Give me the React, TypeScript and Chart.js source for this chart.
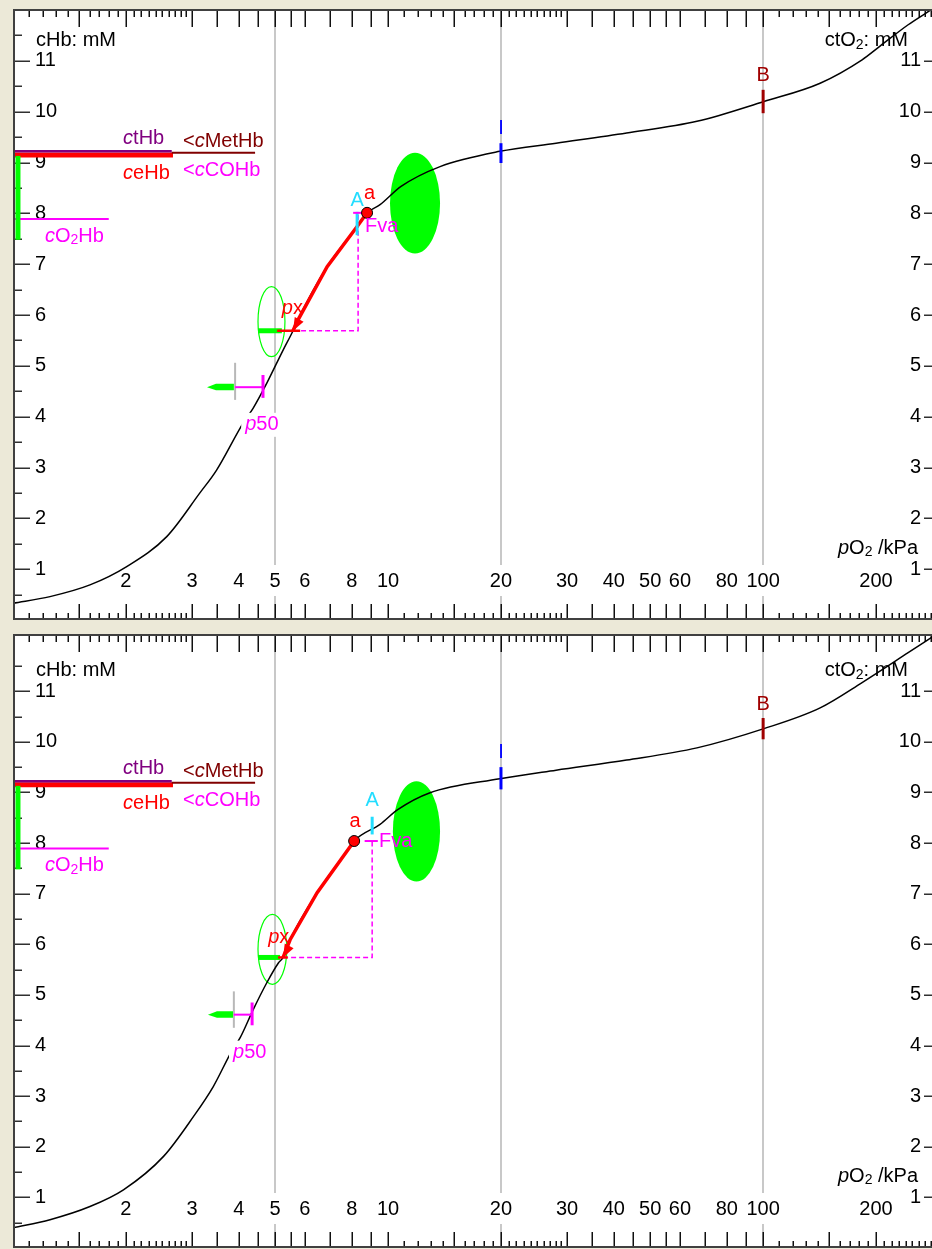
import React, { useEffect, useRef } from "react";
import { Chart, registerables } from "chart.js";

Chart.register(...registerables);

const FF = '"Liberation Sans", Arial, Helvetica, sans-serif';
const FS = 20;

const BEIGE = "#ECE9D8";
const FRAME = "#404040";
const GRID = "#c8c8c8";
const LIME = "#00ff00";
const MAGENTA = "#ff00ff";
const RED = "#ff0000";
const PURPLE = "#800080";
const MAROON = "#800000";
const CYAN = "#22ddff";
const BLUE = "#0000ff";
const DARKRED = "#a00000";

// ---------------- axes ----------------
const PO2_MIN = 1;
const PO2_MAX = 282;
const PO2_LABELS = [2, 3, 4, 5, 6, 8, 10, 20, 30, 40, 50, 60, 80, 100, 200];
const PO2_GRID = [5, 20, 100];
const PO2_LONG_TICKS = [1.5, 2, 3, 3.5, 4, 4.5, 5, 5.5, 6, 7, 8, 9, 10, 15, 20, 30, 35, 40, 45, 50, 55, 60, 70, 80, 90, 100, 150, 200];
const PO2_SHORT_TICKS = [1.1, 1.2, 1.3, 1.4, 1.6, 1.7, 1.8, 1.9, 2.1, 2.2, 2.3, 2.4, 2.5, 2.6, 2.7, 2.8, 2.9, 11, 12, 13, 14, 16, 17, 18, 19, 21, 22, 23, 24, 25, 26, 27, 28, 29, 110, 120, 130, 140, 160, 170, 180, 190, 210, 220, 230, 240, 250, 260, 270, 280];
const CT_LABELS = [1, 2, 3, 4, 5, 6, 7, 8, 9, 10, 11];
const CT_HALF_TICKS = [0.5, 1.5, 2.5, 3.5, 4.5, 5.5, 6.5, 7.5, 8.5, 9.5, 10.5, 11.5];

// ---------------- haemoglobin bars (left side, both panels) ----------------
const HB_CTHB = 9.22;
const HB_CEHB = 9.15;
const HB_METHB = 9.19;
const HB_O2HB = 7.89;
const HB_CTHB_END_PO2 = 2.65;
const HB_CEHB_END_PO2 = 2.67;
const HB_METHB_END_PO2 = 4.42;
const HB_O2HB_END_PO2 = 1.8;
const SO2_BAR_PO2 = 1.031;
const SO2_BAR_CTO2 = [7.48, 9.13];

// ---------------- top panel ----------------
const TOP_CURVE_PO2 = [1, 1.255, 1.604, 2.01, 2.57, 3.15, 3.49, 4.11, 4.37, 4.75, 5.25, 5.58, 5.72, 6.88, 8.27, 8.79, 9.52, 10.83, 13.76, 19.86, 28.05, 43.25, 66.6, 100.5, 141.9, 183.6, 205, 243.6, 271.7, 300];
const TOP_CURVE_CTO2 = [0.33, 0.46, 0.69, 1.05, 1.64, 2.5, 2.95, 3.88, 4.17, 4.66, 5.31, 5.69, 5.87, 6.95, 7.74, 8.01, 8.17, 8.53, 8.92, 9.22, 9.38, 9.58, 9.81, 10.2, 10.56, 11.02, 11.29, 11.71, 11.94, 12.15];
const TOP_RED_PO2 = [5.58, 5.72, 6.88, 8.27, 8.79];
const TOP_RED_CTO2 = [5.69, 5.87, 6.95, 7.74, 8.01];
const TOP_A_POINT = [8.79, 8.01];
const TOP_PX_POINT = [5.58, 5.69];
const TOP_FVA_PO2 = 8.32;
const TOP_FVA_TBAR = [8.07, 8.58];
const TOP_A_MARK = [8.27, 7.57, 8.03];
const TOP_I_MARK = [8.99, 9.38];
const TOP_B_MARK = [9.97, 10.43];
const TOP_P50 = [4.64, 4.58];
const TOP_P50_GRAY = [3.91, 4.33, 5.06];
const TOP_P50_BAR = [4.37, 4.82];
const TOP_P50_ARROW = [3.29, 3.88];
const TOP_PX_RED_BAR = [5.06, 5.83];
const TOP_PX_GREEN_BAR = [4.5, 5.21];
const TOP_BIG_ELLIPSE = [10.12, 13.76, 8.2, 0.99];
const TOP_SMALL_ELLIPSE = [4.5, 5.31, 5.87, 0.69];
const TOP_LABEL_POS = {
  a: [8.93, 8.4], A: [8.27, 8.26], Fva: [8.68, 7.75], px: [5.21, 6.12], p50: [4.16, 3.84], I: [20, 9.66], B: [100, 10.72],
};

// ---------------- bottom panel ----------------
const BOT_CURVE_PO2 = [1, 1.255, 1.604, 1.97, 2.52, 3.03, 3.42, 3.83, 4.03, 4.37, 4.75, 5.1, 5.25, 5.48, 6.47, 8.07, 8.12, 9.52, 10.61, 12.89, 19.86, 28.05, 43.25, 66.6, 100.5, 141.9, 183.6, 243.6, 271.7, 300];
const BOT_CURVE_CTO2 = [0.4, 0.56, 0.82, 1.15, 1.81, 2.6, 3.19, 3.89, 4.15, 4.71, 5.24, 5.63, 5.74, 6.09, 7.02, 8.01, 8.04, 8.37, 8.66, 8.99, 9.27, 9.44, 9.64, 9.88, 10.26, 10.67, 11.17, 11.76, 11.99, 12.2];
const BOT_RED_PO2 = [5.25, 5.48, 6.47, 8.07, 8.12];
const BOT_RED_CTO2 = [5.74, 6.09, 7.02, 8.01, 8.04];
const BOT_A_POINT = [8.12, 8.04];
const BOT_PX_POINT = [5.25, 5.74];
const BOT_FVA_PO2 = 9.07;
const BOT_FVA_TBAR = [8.66, 9.39];
const BOT_A_MARK = [9.07, 8.17, 8.52];
const BOT_I_MARK = [9.06, 9.5];
const BOT_B_MARK = [10.05, 10.47];
const BOT_P50 = [4.34, 4.61];
const BOT_P50_GRAY = [3.88, 4.35, 5.07];
const BOT_P50_BAR = [4.4, 4.85];
const BOT_P50_ARROW = [3.31, 3.86];
const BOT_PX_RED_BAR = [5.09, 5.4];
const BOT_PX_GREEN_BAR = [4.5, 5.15];
const BOT_BIG_ELLIPSE = [10.3, 13.76, 8.23, 0.99];
const BOT_SMALL_ELLIPSE = [4.5, 5.37, 5.9, 0.69];
const BOT_LABEL_POS = {
  a: [8.17, 8.42], A: [9.07, 8.84], Fva: [9.46, 8.03], px: [4.79, 6.13], p50: [3.86, 3.86], I: [20, 9.79], B: [100, 10.74],
};

type Seg = [string, string];

function drawRich(ctx: CanvasRenderingContext2D, segs: Seg[], x: number, y: number, align: string, color: string, bg?: boolean) {
  const fontFor = (s: string) =>
    s === "i" ? `italic ${FS}px ${FF}` : s === "s" ? `${Math.round(FS * 0.72)}px ${FF}` : `${FS}px ${FF}`;
  let total = 0;
  const widths = segs.map(([t, s]) => {
    ctx.font = fontFor(s);
    const w = ctx.measureText(t).width;
    total += w;
    return w;
  });
  let x0 = align === "center" ? x - total / 2 : align === "right" ? x - total : x;
  if (bg) {
    ctx.fillStyle = "#ffffff";
    ctx.fillRect(x0 - 4, y - 12, total + 8, 24);
  }
  ctx.textAlign = "left";
  ctx.textBaseline = "middle";
  ctx.fillStyle = color;
  segs.forEach(([t, s], i) => {
    ctx.font = fontFor(s);
    ctx.fillText(t, x0, s === "s" ? y + FS * 0.22 : y);
    x0 += widths[i];
  });
}

const pts = (xs: number[], ys: number[]) => xs.map((x, i) => ({ x, y: ys[i] }));

function lineDs(data: { x: number; y: number }[], color: string, width: number, extra: any = {}) {
  return {
    data,
    borderColor: color,
    backgroundColor: color,
    borderWidth: width,
    pointRadius: 0,
    tension: 0,
    fill: false,
    ...extra,
  };
}

function buildPanel(p: any) {
  const a = p.aPoint;
  const px = p.pxPoint;
  const layers = [
    lineDs(pts(p.curveP, p.curveV), "#000000", 1.5, { cubicInterpolationMode: "monotone" }),
    lineDs([{ x: PO2_MIN, y: HB_CEHB }, { x: HB_CEHB_END_PO2, y: HB_CEHB }], RED, 5),
    lineDs([{ x: PO2_MIN, y: HB_CTHB }, { x: HB_CTHB_END_PO2, y: HB_CTHB }], PURPLE, 2.5),
    lineDs([{ x: HB_CTHB_END_PO2, y: HB_METHB }, { x: HB_METHB_END_PO2, y: HB_METHB }], MAROON, 2),
    lineDs([{ x: PO2_MIN, y: HB_O2HB }, { x: HB_O2HB_END_PO2, y: HB_O2HB }], MAGENTA, 2),
    lineDs([{ x: SO2_BAR_PO2, y: SO2_BAR_CTO2[0] }, { x: SO2_BAR_PO2, y: SO2_BAR_CTO2[1] }], LIME, 5),
    lineDs([{ x: p.pxGreen[0], y: px[1] }, { x: p.pxGreen[1], y: px[1] }], LIME, 5),
    lineDs([{ x: p.p50Gray[0], y: p.p50Gray[1] }, { x: p.p50Gray[0], y: p.p50Gray[2] }], "#b8b8b8", 2),
    lineDs([{ x: p.p50Gray[0], y: p.p50[1] }, { x: p.p50[0], y: p.p50[1] }], MAGENTA, 2),
    lineDs([{ x: p.p50[0], y: p.p50Bar[0] }, { x: p.p50[0], y: p.p50Bar[1] }], MAGENTA, 3),
    lineDs([{ x: px[0], y: px[1] }, { x: p.fvaP, y: px[1] }, { x: p.fvaP, y: a[1] }], MAGENTA, 1.5, { borderDash: [5, 3] }),
    lineDs(pts(p.redP, p.redV), RED, 3.5),
    lineDs([{ x: p.pxRed[0], y: px[1] }, { x: p.pxRed[1], y: px[1] }], RED, 2.5),
    lineDs([{ x: p.aMark[0], y: p.aMark[1] }, { x: p.aMark[0], y: p.aMark[2] }], CYAN, 3),
    lineDs([{ x: p.fvaT[0], y: a[1] }, { x: p.fvaT[1], y: a[1] }], MAGENTA, 2),
    lineDs([{ x: 20, y: p.iMark[0] }, { x: 20, y: p.iMark[1] }], BLUE, 3),
    lineDs([{ x: 100, y: p.bMark[0] }, { x: 100, y: p.bMark[1] }], DARKRED, 3),
    {
      data: [{ x: a[0], y: a[1] }],
      showLine: false,
      pointRadius: 5.5,
      pointBackgroundColor: RED,
      pointBorderColor: "#000000",
      pointBorderWidth: 1,
    },
  ];
  // first dataset is drawn on top in Chart.js
  return layers.reverse();
}

const HB_TEXTS: { segs: Seg[]; p: number; v: number; color: string }[] = [
  { segs: [["c", "i"], ["tHb", ""]], p: 1.966, v: 9.48, color: PURPLE },
  { segs: [["<", ""], ["c", "i"], ["MetHb", ""]], p: 2.84, v: 9.42, color: MAROON },
  { segs: [["c", "i"], ["eHb", ""]], p: 1.966, v: 8.79, color: RED },
  { segs: [["<", ""], ["c", "i"], ["COHb", ""]], p: 2.84, v: 8.85, color: MAGENTA },
  { segs: [["c", "i"], ["O", ""], ["2", "s"], ["Hb", ""]], p: 1.217, v: 7.55, color: MAGENTA },
];

function makePlugin(p: any) {
  return {
    id: "odcDecor",
    beforeDraw(chart: any) {
      const { ctx, chartArea: ca } = chart;
      ctx.save();
      ctx.fillStyle = BEIGE;
      ctx.fillRect(0, 0, chart.width, chart.height);
      ctx.fillStyle = "#ffffff";
      ctx.fillRect(ca.left, ca.top, ca.right - ca.left, ca.bottom - ca.top);
      ctx.restore();
    },
    beforeDatasetsDraw(chart: any) {
      const { ctx, chartArea: ca } = chart;
      const X = (v: number) => chart.scales.x.getPixelForValue(v);
      const Y = (v: number) => chart.scales.y.getPixelForValue(v);
      ctx.save();
      // grid lines
      ctx.strokeStyle = GRID;
      ctx.lineWidth = 2;
      PO2_GRID.forEach((g) => {
        const x = Math.round(X(g));
        ctx.beginPath();
        ctx.moveTo(x, ca.top);
        ctx.lineTo(x, ca.bottom);
        ctx.stroke();
      });
      // ellipses
      const ell = (e: number[], filled: boolean) => {
        const x0 = X(e[0]);
        const x1 = X(e[1]);
        const cy = Y(e[2]);
        const ry = Y(e[2] - e[3]) - cy;
        ctx.beginPath();
        ctx.ellipse((x0 + x1) / 2, cy, (x1 - x0) / 2, ry, 0, 0, Math.PI * 2);
        if (filled) {
          ctx.fillStyle = LIME;
          ctx.fill();
        } else {
          ctx.strokeStyle = LIME;
          ctx.lineWidth = 1.2;
          ctx.stroke();
        }
      };
      ell(p.bigEllipse, true);
      ell(p.smallEllipse, false);
      // bottom tick labels
      ctx.font = `${FS}px ${FF}`;
      PO2_LABELS.forEach((v) => {
        const x = X(v);
        const y = ca.bottom - 39;
        const w = ctx.measureText(String(v)).width;
        ctx.fillStyle = "#ffffff";
        ctx.fillRect(x - w / 2 - 2, y - 16, w + 4, 31);
        ctx.fillStyle = "#000000";
        ctx.textAlign = "center";
        ctx.textBaseline = "middle";
        ctx.fillText(String(v), x, y);
      });
      // x ticks top/bottom
      ctx.strokeStyle = "#101010";
      ctx.lineWidth = 1.5;
      const tick = (v: number, lenB: number, lenT: number) => {
        const x = Math.round(X(v)) + 0.25;
        if (x < ca.left + 2 || x > ca.right) return;
        ctx.beginPath();
        ctx.moveTo(x, ca.bottom);
        ctx.lineTo(x, ca.bottom - lenB);
        ctx.moveTo(x, ca.top);
        ctx.lineTo(x, ca.top + lenT);
        ctx.stroke();
      };
      PO2_LONG_TICKS.forEach((v) => tick(v, 16, 18));
      PO2_SHORT_TICKS.forEach((v) => tick(v, 7, 8));
      // y ticks and labels
      ctx.strokeStyle = "#303030";
      ctx.lineWidth = 1.5;
      CT_LABELS.forEach((v) => {
        const y = Math.round(Y(v)) + 0.25;
        ctx.beginPath();
        ctx.moveTo(ca.left, y);
        ctx.lineTo(ca.left + 17, y);
        ctx.moveTo(ca.right - 8, y);
        ctx.lineTo(ca.right, y);
        ctx.stroke();
      });
      CT_HALF_TICKS.forEach((v) => {
        const y = Math.round(Y(v)) + 0.25;
        if (y < ca.top + 2) return;
        ctx.beginPath();
        ctx.moveTo(ca.left, y);
        ctx.lineTo(ca.left + 9, y);
        ctx.stroke();
      });
      ctx.font = `${FS}px ${FF}`;
      ctx.fillStyle = "#000000";
      ctx.textBaseline = "middle";
      CT_LABELS.forEach((v) => {
        const y = Y(v);
        ctx.textAlign = "left";
        ctx.fillText(String(v), ca.left + 22, y);
        ctx.textAlign = "right";
        ctx.fillText(String(v), ca.right - 11, y);
      });
      // axis titles
      drawRich(ctx, [["cHb: mM", ""]], ca.left + 23, Y(11.4), "left", "#000000");
      drawRich(ctx, [["ctO", ""], ["2", "s"], [": mM", ""]], ca.right - 24, Y(11.4), "right", "#000000");
      drawRich(ctx, [["p", "i"], ["O", ""], ["2", "s"], [" /kPa", ""]], ca.right - 14, ca.bottom - 72, "right", "#000000");
      // Hb labels
      HB_TEXTS.forEach((t) => drawRich(ctx, t.segs, X(t.p), Y(t.v), "left", t.color));
      ctx.restore();
    },
    afterDatasetsDraw(chart: any) {
      const { ctx, chartArea: ca } = chart;
      const X = (v: number) => chart.scales.x.getPixelForValue(v);
      const Y = (v: number) => chart.scales.y.getPixelForValue(v);
      ctx.save();
      // green arrow at p50 level
      {
        const y = Y(p.p50[1]);
        const xt = X(p.p50Arrow[0]);
        const xe = X(p.p50Arrow[1]);
        ctx.fillStyle = LIME;
        ctx.beginPath();
        ctx.moveTo(xt, y);
        ctx.lineTo(xt + 9, y - 3.5);
        ctx.lineTo(xe, y - 3.5);
        ctx.lineTo(xe, y + 3);
        ctx.lineTo(xt + 9, y + 3);
        ctx.closePath();
        ctx.fill();
      }
      // red arrowhead at px
      {
        const tx = X(p.redP[0]);
        const ty = Y(p.redV[0]);
        const bx = X(p.redP[2]);
        const by = Y(p.redV[2]);
        const ang = Math.atan2(ty - by, tx - bx);
        const L = 13;
        const W = 5;
        const cx = tx - L * Math.cos(ang);
        const cy = ty - L * Math.sin(ang);
        ctx.fillStyle = RED;
        ctx.beginPath();
        ctx.moveTo(tx, ty);
        ctx.lineTo(cx + W * Math.sin(ang), cy - W * Math.cos(ang));
        ctx.lineTo(cx - W * Math.sin(ang), cy + W * Math.cos(ang));
        ctx.closePath();
        ctx.fill();
      }
      // marker labels
      const L = p.labels;
      drawRich(ctx, [["a", ""]], X(L.a[0]), Y(L.a[1]), "center", RED);
      drawRich(ctx, [["A", ""]], X(L.A[0]), Y(L.A[1]), "center", CYAN);
      drawRich(ctx, [["Fva", ""]], X(L.Fva[0]), Y(L.Fva[1]), "left", MAGENTA);
      drawRich(ctx, [["p", "i"], ["x", ""]], X(L.px[0]), Y(L.px[1]), "left", RED);
      drawRich(ctx, [["p", "i"], ["50", ""]], X(L.p50[0]), Y(L.p50[1]), "left", MAGENTA, true);
      drawRich(ctx, [["I", ""]], X(L.I[0]), Y(L.I[1]), "center", BLUE);
      drawRich(ctx, [["B", ""]], X(L.B[0]), Y(L.B[1]), "center", DARKRED);
      // frame
      ctx.strokeStyle = FRAME;
      ctx.lineWidth = 2;
      ctx.beginPath();
      ctx.moveTo(ca.left + 1, ca.bottom - 1);
      ctx.lineTo(ca.left + 1, ca.top + 1);
      ctx.lineTo(ca.right, ca.top + 1);
      ctx.moveTo(ca.left, ca.bottom - 1);
      ctx.lineTo(ca.right, ca.bottom - 1);
      ctx.stroke();
      ctx.restore();
    },
  };
}

const PANELS = [
  {
    top: 0,
    height: 622,
    padding: { left: 13, top: 9, right: 0, bottom: 2 },
    yMax: 12.02,
    curveP: TOP_CURVE_PO2,
    curveV: TOP_CURVE_CTO2,
    redP: TOP_RED_PO2,
    redV: TOP_RED_CTO2,
    aPoint: TOP_A_POINT,
    pxPoint: TOP_PX_POINT,
    fvaP: TOP_FVA_PO2,
    fvaT: TOP_FVA_TBAR,
    aMark: TOP_A_MARK,
    iMark: TOP_I_MARK,
    bMark: TOP_B_MARK,
    p50: TOP_P50,
    p50Gray: TOP_P50_GRAY,
    p50Bar: TOP_P50_BAR,
    p50Arrow: TOP_P50_ARROW,
    pxRed: TOP_PX_RED_BAR,
    pxGreen: TOP_PX_GREEN_BAR,
    bigEllipse: TOP_BIG_ELLIPSE,
    smallEllipse: TOP_SMALL_ELLIPSE,
    labels: TOP_LABEL_POS,
  },
  {
    top: 622,
    height: 627,
    padding: { left: 13, top: 12, right: 0, bottom: 1 },
    yMax: 12.13,
    curveP: BOT_CURVE_PO2,
    curveV: BOT_CURVE_CTO2,
    redP: BOT_RED_PO2,
    redV: BOT_RED_CTO2,
    aPoint: BOT_A_POINT,
    pxPoint: BOT_PX_POINT,
    fvaP: BOT_FVA_PO2,
    fvaT: BOT_FVA_TBAR,
    aMark: BOT_A_MARK,
    iMark: BOT_I_MARK,
    bMark: BOT_B_MARK,
    p50: BOT_P50,
    p50Gray: BOT_P50_GRAY,
    p50Bar: BOT_P50_BAR,
    p50Arrow: BOT_P50_ARROW,
    pxRed: BOT_PX_RED_BAR,
    pxGreen: BOT_PX_GREEN_BAR,
    bigEllipse: BOT_BIG_ELLIPSE,
    smallEllipse: BOT_SMALL_ELLIPSE,
    labels: BOT_LABEL_POS,
  },
];

function Panel({ cfg }: { cfg: any }) {
  const ref = useRef<HTMLCanvasElement | null>(null);
  useEffect(() => {
    if (!ref.current) return;
    const chart = new Chart(ref.current, {
      type: "line",
      data: { datasets: buildPanel(cfg) as any },
      options: {
        animation: false,
        responsive: false,
        maintainAspectRatio: false,
        events: [],
        layout: { padding: cfg.padding, autoPadding: false },
        plugins: { legend: { display: false }, tooltip: { enabled: false } },
        scales: {
          x: { type: "logarithmic", min: PO2_MIN, max: PO2_MAX, bounds: "data", display: false },
          y: { type: "linear", min: 0, max: cfg.yMax, bounds: "data", display: false },
        },
      },
      plugins: [makePlugin(cfg)],
    } as any);
    return () => chart.destroy();
  }, [cfg]);
  return (
    <canvas
      ref={ref}
      width={932}
      height={cfg.height}
      style={{ position: "absolute", left: 0, top: cfg.top, width: 932, height: cfg.height, display: "block" }}
    />
  );
}

export default function App() {
  return (
    <div style={{ position: "absolute", left: 0, top: 0, width: 932, height: 1249, background: BEIGE, overflow: "hidden" }}>
      {PANELS.map((cfg, i) => (
        <Panel key={i} cfg={cfg} />
      ))}
    </div>
  );
}
